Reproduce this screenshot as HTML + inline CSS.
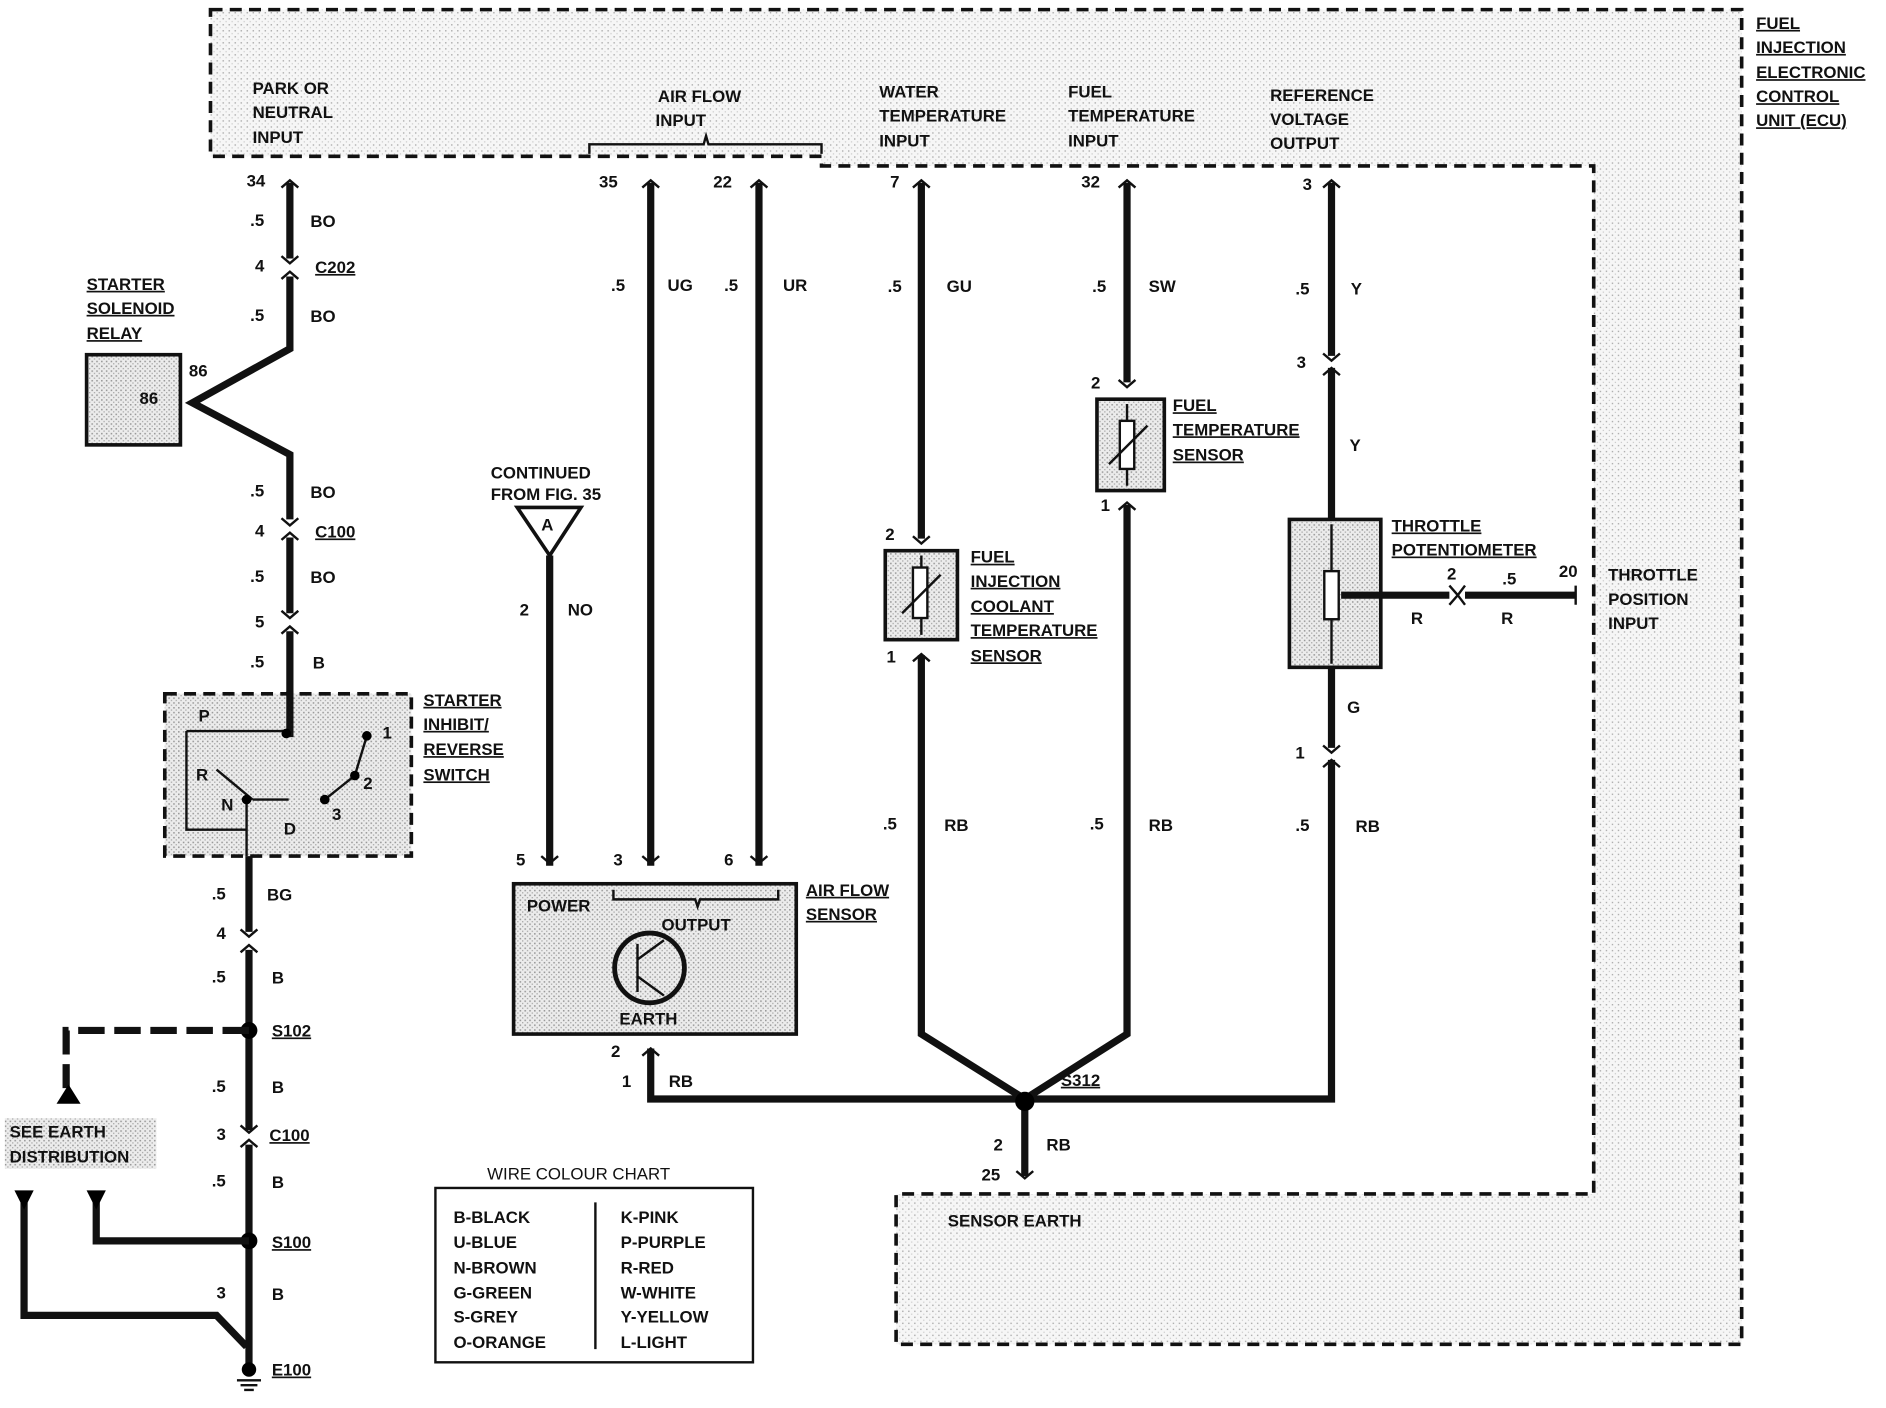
<!DOCTYPE html>
<html><head><meta charset="utf-8"><style>
html,body{margin:0;padding:0;background:#fff;}
svg{display:block;}
text{font-family:"Liberation Sans",Arial,sans-serif;font-weight:bold;font-size:14px;fill:#111;}
.u{text-decoration:underline;}
.w{stroke:#111;stroke-width:6;fill:none;stroke-linejoin:miter;}
.t{stroke:#111;stroke-width:2;fill:none;}
.d{stroke:#111;stroke-width:3;fill:none;stroke-dasharray:10,6;}
</style></head><body>
<svg width="1886" height="1408" viewBox="0 0 1568 1171" preserveAspectRatio="none">
<defs>
<pattern id="st" width="4" height="4" patternUnits="userSpaceOnUse"><rect width="4" height="4" fill="#ececec"/><rect x="0" y="0" width="1.3" height="1.3" fill="#9a9a9a"/><rect x="2" y="2" width="1.1" height="1.1" fill="#aaa"/></pattern>
<pattern id="st2" width="5" height="5" patternUnits="userSpaceOnUse"><rect width="5" height="5" fill="#f6f6f6"/><rect x="0" y="0" width="1.2" height="1.2" fill="#b0b0b0"/><rect x="2.5" y="2.5" width="1" height="1" fill="#c8c8c8"/></pattern>
<g id="cu"><path class="t" d="M-7,-6 L0,0 L7,-6" stroke-width="3"/></g>
<g id="cd"><path class="t" d="M-7,6 L0,0 L7,6" stroke-width="3"/></g>
</defs>
<!-- ECU -->
<path d="M175,8 H1448 V1118 H745 V993 H1325 V138 H683 V130 H175 Z" class="d" style="fill:url(#st2)"/>
<text x="1460" y="24" class="u">FUEL</text><text x="1460" y="44" class="u">INJECTION</text><text x="1460" y="65" class="u">ELECTRONIC</text><text x="1460" y="85" class="u">CONTROL</text><text x="1460" y="105" class="u">UNIT (ECU)</text>
<text x="210" y="78">PARK OR</text><text x="210" y="98">NEUTRAL</text><text x="210" y="119">INPUT</text>
<text x="547" y="85">AIR FLOW</text><text x="545" y="105">INPUT</text>
<path class="t" d="M490,128 V120 H585 L587,113 L589,120 H683 V128"/>
<text x="731" y="81">WATER</text><text x="731" y="101">TEMPERATURE</text><text x="731" y="122">INPUT</text>
<text x="888" y="81">FUEL</text><text x="888" y="101">TEMPERATURE</text><text x="888" y="122">INPUT</text>
<text x="1056" y="84">REFERENCE</text><text x="1056" y="104">VOLTAGE</text><text x="1056" y="124">OUTPUT</text>
<!-- left wire -->
<path class="w" d="M241,152 V215 M241,230 V290 L160,335 L241,378 V432 M241,447 V510 M241,525 V610 H238"/>
<use href="#cd" x="241" y="150"/><use href="#cu" x="241" y="219"/><use href="#cd" x="241" y="226"/>
<use href="#cu" x="241" y="437"/><use href="#cd" x="241" y="443"/><use href="#cu" x="241" y="514"/><use href="#cd" x="241" y="521"/>
<text x="205" y="155">34</text><text x="208" y="188">.5</text><text x="258" y="189">BO</text><text x="212" y="226">4</text><text x="262" y="227" class="u">C202</text>
<text x="208" y="267">.5</text><text x="258" y="268">BO</text>
<rect x="72" y="295" width="78" height="75" fill="url(#st)" stroke="#111" stroke-width="3"/>
<text x="116" y="336">86</text><text x="157" y="313">86</text>
<text x="72" y="241" class="u">STARTER</text><text x="72" y="261" class="u">SOLENOID</text><text x="72" y="282" class="u">RELAY</text>
<text x="208" y="413">.5</text><text x="258" y="414">BO</text><text x="212" y="446">4</text><text x="262" y="447" class="u">C100</text>
<text x="208" y="484">.5</text><text x="258" y="485">BO</text><text x="212" y="522">5</text><text x="208" y="555">.5</text><text x="260" y="556">B</text>
<!-- switch -->
<rect x="137" y="577" width="205" height="135" class="d" style="fill:url(#st)"/>
<path class="w" d="M241,575 V610 H238"/>
<path class="t" d="M170,608 H238 M155,608 V690 H205 M170,608 L155,608 M205,665 V712 M210,665 L180,640 M210,665 L240,665 M270,665 L295,645 L305,612"/>
<circle cx="238" cy="610" r="4"/><circle cx="205" cy="665" r="4"/><circle cx="270" cy="665" r="4"/><circle cx="295" cy="645" r="4"/><circle cx="305" cy="612" r="4"/>
<text x="165" y="600">P</text><text x="163" y="649">R</text><text x="184" y="674">N</text><text x="236" y="694">D</text><text x="318" y="614">1</text><text x="302" y="656">2</text><text x="276" y="682">3</text>
<text x="352" y="587" class="u">STARTER</text><text x="352" y="607" class="u">INHIBIT/</text><text x="352" y="628" class="u">REVERSE</text><text x="352" y="649" class="u">SWITCH</text>
<path class="w" d="M207,712 V775 M207,790 V940 M207,952 V1140"/>
<use href="#cu" x="207" y="779"/><use href="#cd" x="207" y="786"/><use href="#cu" x="207" y="942"/><use href="#cd" x="207" y="948"/>
<text x="176" y="748">.5</text><text x="222" y="749">BG</text><text x="180" y="781">4</text><text x="176" y="817">.5</text><text x="226" y="818">B</text>
<circle cx="207" cy="857" r="7"/><text x="226" y="862" class="u">S102</text>
<path class="w" d="M207,857 H55 V905" stroke-dasharray="22,8"/><path d="M47,918 L57,902 L67,918 Z"/>
<text x="176" y="908">.5</text><text x="226" y="909">B</text><text x="180" y="948">3</text><text x="224" y="949" class="u">C100</text>
<text x="176" y="987">.5</text><text x="226" y="988">B</text>
<circle cx="207" cy="1032" r="7"/><text x="226" y="1038" class="u">S100</text>
<path class="w" d="M207,1032 H80 V1000"/><path d="M72,990 L88,990 L80,1006 Z"/>
<text x="180" y="1080">3</text><text x="226" y="1081">B</text>
<path class="w" d="M20,1000 V1094 H180 L205,1120"/><path d="M12,990 L28,990 L20,1006 Z"/>
<circle cx="207" cy="1139" r="6"/><path class="t" d="M197,1148 H217 M200,1152 H214 M203,1156 H211"/>
<text x="226" y="1144" class="u">E100</text>
<rect x="4" y="930" width="126" height="42" fill="url(#st)"/>
<text x="8" y="946">SEE EARTH</text><text x="8" y="967">DISTRIBUTION</text>
<!-- air flow -->
<path class="w" d="M541,152 V720 M631,152 V720 M457,462 V720"/>
<use href="#cd" x="541" y="150"/><use href="#cd" x="631" y="150"/><use href="#cu" x="541" y="718"/><use href="#cu" x="631" y="718"/><use href="#cu" x="457" y="718"/>
<text x="498" y="156">35</text><text x="593" y="156">22</text><text x="508" y="242">.5</text><text x="555" y="242">UG</text><text x="602" y="242">.5</text><text x="651" y="242">UR</text>
<text x="510" y="720">3</text><text x="602" y="720">6</text><text x="429" y="720">5</text>
<path d="M430,422 H483 L457,462 Z" fill="#fff" stroke="#111" stroke-width="3"/><text x="450" y="441">A</text>
<text x="408" y="398">CONTINUED</text><text x="408" y="416">FROM FIG. 35</text>
<text x="432" y="512">2</text><text x="472" y="512">NO</text>
<rect x="427" y="735" width="235" height="125" fill="url(#st)" stroke="#111" stroke-width="3"/>
<path class="t" d="M510,740 V748 H578 L580,754 L582,748 H647 V740"/>
<text x="438" y="758">POWER</text><text x="550" y="774">OUTPUT</text><text x="515" y="852">EARTH</text>
<circle cx="540" cy="805" r="29" fill="none" stroke="#111" stroke-width="4"/>
<path class="t" d="M530,785 V825 M530,798 L552,782 M530,812 L552,828" stroke-width="3"/>
<text x="670" y="745" class="u">AIR FLOW</text><text x="670" y="765" class="u">SENSOR</text>
<path class="w" d="M541,872 V914 H852"/><use href="#cd" x="541" y="872"/>
<text x="508" y="879">2</text><text x="517" y="904">1</text><text x="556" y="904">RB</text>
<!-- water -->
<path class="w" d="M766,152 V448 M766,545 V860 L852,914 M937,152 V318 M937,420 V860 L852,914 M1107,152 V296 M1107,306 V432 M1107,555 V622 M1107,632 V914 H852 M852,914 V978"/>
<use href="#cd" x="766" y="150"/><use href="#cd" x="937" y="150"/><use href="#cd" x="1107" y="150"/>
<use href="#cu" x="766" y="452"/><use href="#cd" x="766" y="544"/><use href="#cu" x="937" y="322"/><use href="#cd" x="937" y="418"/>
<use href="#cu" x="1107" y="300"/><use href="#cd" x="1107" y="306"/><use href="#cu" x="1107" y="626"/><use href="#cd" x="1107" y="632"/>
<use href="#cu" x="852" y="980"/>
<rect x="736" y="458" width="60" height="74" fill="url(#st)" stroke="#111" stroke-width="3"/>
<rect x="759" y="472" width="12" height="42" fill="#fff" stroke="#111" stroke-width="2"/><path class="t" d="M750,510 L782,478 M766,462 V472 M766,514 V528"/>
<rect x="912" y="332" width="56" height="76" fill="url(#st)" stroke="#111" stroke-width="3"/>
<rect x="931" y="350" width="12" height="40" fill="#fff" stroke="#111" stroke-width="2"/><path class="t" d="M922,386 L954,354 M937,336 V350 M937,390 V404"/>
<rect x="1072" y="432" width="76" height="123" fill="url(#st)" stroke="#111" stroke-width="3"/>
<rect x="1101" y="475" width="12" height="40" fill="#fff" stroke="#111" stroke-width="2"/><path class="t" d="M1107,436 V475 M1107,515 V552"/>
<path class="w" d="M1115,495 H1205 M1218,495 H1310"/><path class="t" d="M1205,487 L1212,495 L1205,503 M1218,487 L1212,495 L1218,503 M1310,487 V503" stroke-width="3"/>
<text x="740" y="156">7</text><text x="738" y="243">.5</text><text x="787" y="243">GU</text><text x="736" y="449">2</text><text x="737" y="551">1</text>
<text x="734" y="690">.5</text><text x="785" y="691">RB</text>
<text x="807" y="468" class="u">FUEL</text><text x="807" y="488" class="u">INJECTION</text><text x="807" y="509" class="u">COOLANT</text><text x="807" y="529" class="u">TEMPERATURE</text><text x="807" y="550" class="u">SENSOR</text>
<text x="899" y="156">32</text><text x="908" y="243">.5</text><text x="955" y="243">SW</text><text x="907" y="323">2</text><text x="915" y="425">1</text>
<text x="906" y="690">.5</text><text x="955" y="691">RB</text>
<text x="975" y="342" class="u">FUEL</text><text x="975" y="362" class="u">TEMPERATURE</text><text x="975" y="383" class="u">SENSOR</text>
<text x="1083" y="158">3</text><text x="1077" y="245">.5</text><text x="1123" y="245">Y</text><text x="1078" y="306">3</text><text x="1122" y="375">Y</text>
<text x="1120" y="593">G</text><text x="1077" y="631">1</text><text x="1077" y="691">.5</text><text x="1127" y="692">RB</text>
<text x="1157" y="442" class="u">THROTTLE</text><text x="1157" y="462" class="u">POTENTIOMETER</text>
<text x="1203" y="482">2</text><text x="1249" y="486">.5</text><text x="1296" y="480">20</text><text x="1173" y="519">R</text><text x="1248" y="519">R</text>
<text x="1337" y="483">THROTTLE</text><text x="1337" y="503">POSITION</text><text x="1337" y="523">INPUT</text>
<circle cx="852" cy="916" r="8"/><text x="882" y="903" class="u">S312</text>
<text x="826" y="957">2</text><text x="870" y="957">RB</text><text x="816" y="982">25</text>
<text x="788" y="1020">SENSOR EARTH</text>
<!-- chart -->
<rect x="362" y="988" width="264" height="145" fill="#fff" stroke="#111" stroke-width="2"/>
<rect x="400" y="968" width="190" height="16" fill="#fff"/>
<text x="405" y="981" style="font-weight:normal">WIRE COLOUR CHART</text>
<path class="t" d="M495,1000 V1122"/>
<g>
<text x="377" y="1017">B-BLACK</text><text x="377" y="1038">U-BLUE</text><text x="377" y="1059">N-BROWN</text><text x="377" y="1080">G-GREEN</text><text x="377" y="1100">S-GREY</text><text x="377" y="1121">O-ORANGE</text>
<text x="516" y="1017">K-PINK</text><text x="516" y="1038">P-PURPLE</text><text x="516" y="1059">R-RED</text><text x="516" y="1080">W-WHITE</text><text x="516" y="1100">Y-YELLOW</text><text x="516" y="1121">L-LIGHT</text>
</g>
</svg>
</body></html>
